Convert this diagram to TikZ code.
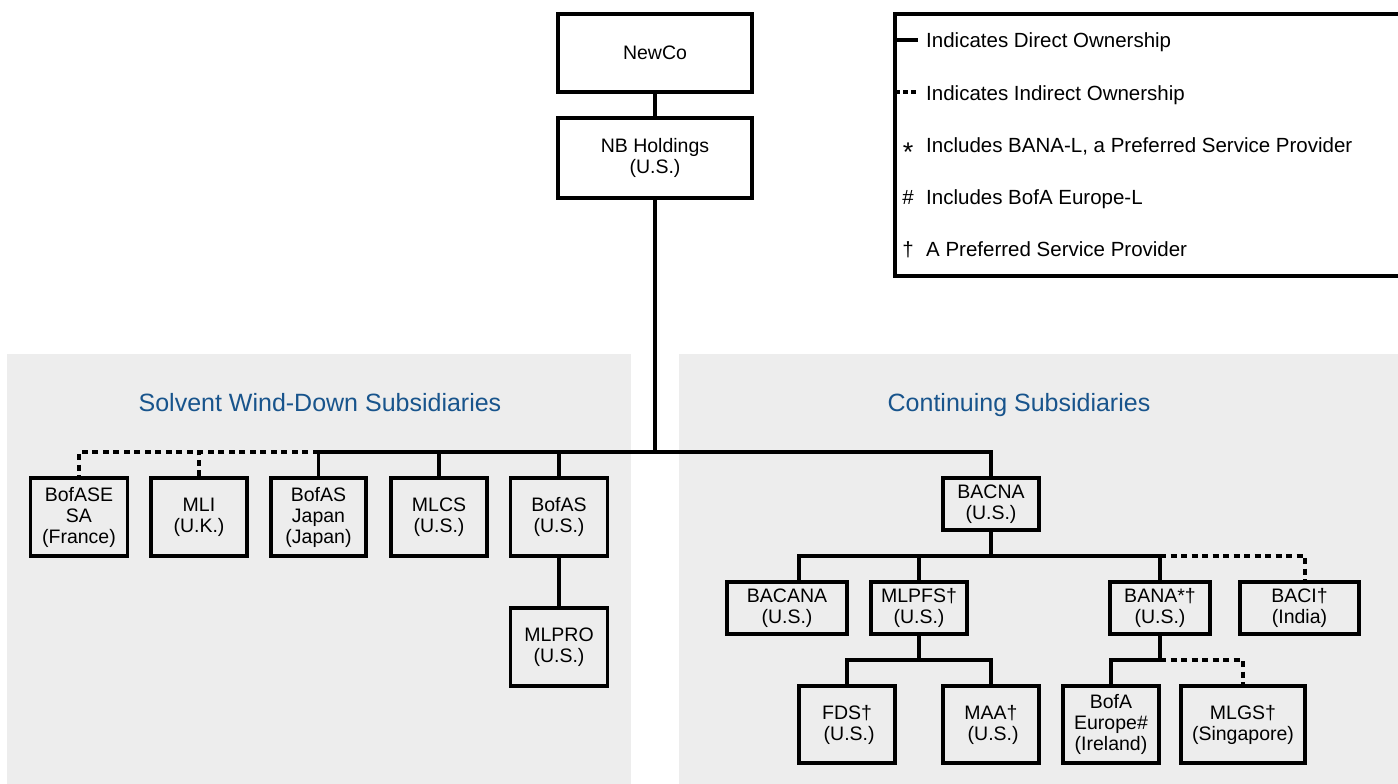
\documentclass[tikz,border=0pt]{standalone}
\usepackage{fontspec}
\setmainfont{Liberation Sans}
\definecolor{panelgray}{RGB}{237,237,237}
\definecolor{titleblue}{RGB}{24,84,140}
\tikzset{
  ent/.style={draw=black, line width=3.1pt, inner sep=0pt, align=center,
    font=\fontsize{19.5}{21}\selectfont},
  conn/.style={draw=black, line width=3.1pt},
  iconn/.style={draw=black, line width=3.1pt, dash pattern=on 6pt off 4.5pt},
  legtext/.style={anchor=base west, inner sep=0pt, font=\fontsize{20.5}{22}\selectfont},
  legsym/.style={anchor=base, inner sep=0pt, font=\fontsize{20.5}{22}\selectfont},
  paneltitle/.style={anchor=base, inner sep=0pt, text=titleblue, font=\fontsize{25}{28}\selectfont},
}
\begin{document}
\begin{tikzpicture}[x=1pt,y=-1pt]
\useasboundingbox (0,0) rectangle (1398,784);
\fill[white] (0,0) rectangle (1398,784);
% panels
\fill[panelgray] (7,354) rectangle (631,784);
\fill[panelgray] (679,354) rectangle (1398,784);
\node[paneltitle] (t1) at (320,411) {Solvent Wind-Down Subsidiaries};
\node[paneltitle] (t2) at (1019,411) {Continuing Subsidiaries};

% top
\node[ent, minimum width=194, minimum height=78] (newco) at (655,53) {NewCo};
\node[ent, minimum width=194, minimum height=80] (nb) at (655,158) {NB Holdings\\(U.S.)};

% left row
\node[ent, minimum width=97, minimum height=78] (bofase) at (79,517) {BofASE\\SA\\(France)};
\node[ent, minimum width=96, minimum height=78] (mli) at (199,517) {MLI\\(U.K.)};
\node[ent, minimum width=95, minimum height=78] (japan) at (318.5,517) {BofAS\\Japan\\(Japan)};
\node[ent, minimum width=96, minimum height=78] (mlcs) at (439,517) {MLCS\\(U.S.)};
\node[ent, minimum width=97, minimum height=78] (bofas) at (559,517) {BofAS\\(U.S.)};
\node[ent, minimum width=97, minimum height=78] (mlpro) at (559,647) {MLPRO\\(U.S.)};

% right tree
\node[ent, minimum width=96, minimum height=52] (bacna) at (991,504) {BACNA\\(U.S.)};
\node[ent, minimum width=120, minimum height=52] (bacana) at (787,608) {BACANA\\(U.S.)};
\node[ent, minimum width=96, minimum height=52] (mlpfs) at (919,608) {MLPFS†\\(U.S.)};
\node[ent, minimum width=100, minimum height=52] (bana) at (1160,608) {BANA*†\\(U.S.)};
\node[ent, minimum width=119, minimum height=52] (baci) at (1299.5,608) {BACI†\\(India)};
\node[ent, minimum width=96, minimum height=77] (fds) at (847,724.5) {FDS†\\\hphantom{i}(U.S.)};
\node[ent, minimum width=96, minimum height=77] (maa) at (991,724.5) {MAA†\\\hphantom{i}(U.S.)};
\node[ent, minimum width=96, minimum height=77] (bofae) at (1111,724.5) {BofA\\Europe\#\\(Ireland)};
\node[ent, minimum width=124, minimum height=77] (mlgs) at (1243,724.5) {MLGS†\\(Singapore)};

% junctions
\coordinate (j0) at (655,452);
\coordinate (j1) at (991,556);
\coordinate (c1) at (799,556);
\coordinate (c2) at (1305,556);
\coordinate (j2) at (919,660);
\coordinate (j3) at (1160,660);

% connectors top
\draw[conn] (newco.south) -- (nb.north);
\draw[conn] (nb.south) -- (j0);
\draw[conn] (japan.north) -- (japan.north |- j0) -- (bacna.north |- j0) -- (bacna.north);
\draw[conn] (mlcs.north) -- (mlcs.north |- j0);
\draw[conn] (bofas.north) -- (bofas.north |- j0);
\draw[conn] (bofas.south) -- (mlpro.north);
\draw[iconn] (japan.north |- j0) -- (bofase.north |- j0) -- (bofase.north);
\draw[iconn] (mli.north) -- (mli.north |- j0);

% connectors right
\draw[conn] (bacna.south) -- (j1);
\draw[conn] (c1 |- bacana.north) -- (c1) -- (bana.north |- j1) -- (bana.north);
\draw[conn] (mlpfs.north) -- (mlpfs.north |- j1);
\draw[iconn] (bana.north |- j1) -- (c2) -- (c2 |- baci.north);
\draw[conn] (mlpfs.south) -- (j2);
\draw[conn] (fds.north) -- (fds.north |- j2) -- (maa.north |- j2) -- (maa.north);
\draw[conn] (bana.south) -- (j3) -- (bofae.north |- j3) -- (bofae.north);
\draw[iconn] (j3) -- (mlgs.north |- j3) -- (mlgs.north);

% legend
\draw[line width=3.1pt] (1400,14) -- (895,14) -- (895,276) -- (1400,276);
\coordinate (l1) at (895,40);
\coordinate (l2) at (895,92);
\draw[conn] (l1) -- ++(23,0);
\draw[line width=3.1pt, dash pattern=on 4.5pt off 3.5pt] (l2) -- ++(23,0);
\node[legtext] (lt1) at (926,48) {Indicates Direct Ownership};
\node[legtext] (lt2) at (926,100) {Indicates Indirect Ownership};
\node[legsym, font=\fontsize{27}{28}\selectfont] (ls3) at (908,161) {*};
\node[legtext] (lt3) at (926,152.5) {Includes BANA-L, a Preferred Service Provider};
\node[legsym] (ls4) at (908,204.5) {\#};
\node[legtext] (lt4) at (926,204.5) {Includes BofA Europe-L};
\node[legsym] (ls5) at (908,256.5) {†};
\node[legtext] (lt5) at (926,256.5) {A Preferred Service Provider};
\end{tikzpicture}
\end{document}
